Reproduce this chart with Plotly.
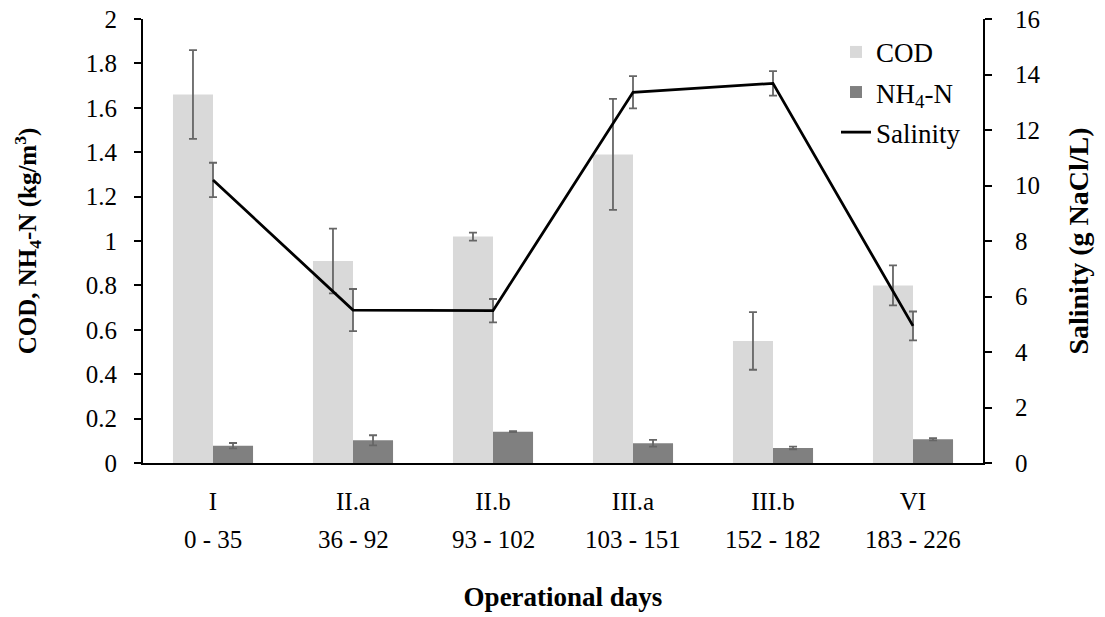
import plotly.graph_objects as go

phases = ["I", "II.a", "II.b", "III.a", "III.b", "VI"]
day_ranges = ["0 - 35", "36 - 92", "93 - 102", "103 - 151", "152 - 182", "183 - 226"]

cod = [1.66, 0.91, 1.02, 1.39, 0.55, 0.80]
cod_err = [0.20, 0.146, 0.018, 0.25, 0.13, 0.09]
nh4 = [0.078, 0.102, 0.141, 0.089, 0.068, 0.107]
nh4_err = [0.012, 0.023, 0.002, 0.015, 0.006, 0.005]
salinity = [10.2, 5.51, 5.49, 13.36, 13.68, 4.94]
salinity_err = [0.62, 0.76, 0.42, 0.58, 0.44, 0.52]

FONT = "Liberation Serif"
ERR_COLOR = "#666666"

fig = go.Figure()
fig.add_trace(go.Bar(
    x=phases, y=cod, name="COD", legendgroup="a",
    marker=dict(color="#d9d9d9", line=dict(width=0)),
    error_y=dict(type="data", array=cod_err, color=ERR_COLOR, thickness=1.8, width=4),
))
fig.add_trace(go.Bar(
    x=phases, y=nh4, name="NH<sub>4</sub>-N", legendgroup="b",
    marker=dict(color="#808080", line=dict(width=0)),
    error_y=dict(type="data", array=nh4_err, color=ERR_COLOR, thickness=1.8, width=4),
))
fig.add_trace(go.Scatter(
    x=phases, y=salinity, name="Salinity", legendgroup="c", yaxis="y2",
    mode="lines", line=dict(color="black", width=2.8),
    error_y=dict(type="data", array=salinity_err, color=ERR_COLOR, thickness=1.8, width=4),
))

# day ranges under the phase labels
for p, d in zip(phases, day_ranges):
    fig.add_annotation(x=p, y=-0.173, xref="x", yref="paper", text=d, showarrow=False,
                       font=dict(family=FONT, size=25, color="black"), yanchor="middle")

fig.update_layout(
    width=1105, height=617,
    margin=dict(l=143, r=122, t=19, b=154),
    paper_bgcolor="white", plot_bgcolor="white",
    font=dict(family=FONT, size=25, color="black"),
    barmode="group", bargap=0.428, bargroupgap=0,
    showlegend=True,
    legend=dict(x=0.825, y=0.98, xanchor="left", yanchor="top",
                font=dict(family=FONT, size=27), tracegroupgap=2,
                bgcolor="rgba(0,0,0,0)", itemwidth=30),
    xaxis=dict(
        automargin=False,
        showline=True, linecolor="black", linewidth=2, ticks="", showgrid=False,
        ticklabelstandoff=15, tickfont=dict(family=FONT, size=25),
        title=dict(text="<b>Operational days</b>", font=dict(family=FONT, size=27), standoff=73),
    ),
    yaxis=dict(
        automargin=False,
        range=[0, 2], dtick=0.2, showline=True, linecolor="black", linewidth=2,
        ticks="outside", ticklen=7, tickwidth=1.5, tickcolor="black", showgrid=False,
        zeroline=False, tickfont=dict(family=FONT, size=25), ticklabelstandoff=12,
        title=dict(text="<b>COD, NH<sub>4</sub>-N (kg/m<sup>3</sup>)</b>",
                   font=dict(family=FONT, size=25), standoff=42),
    ),
    yaxis2=dict(
        automargin=False,
        range=[0, 16], dtick=2, overlaying="y", side="right", showline=True,
        linecolor="black", linewidth=2, ticks="outside", ticklen=7, tickwidth=1.5,
        tickcolor="black", showgrid=False, zeroline=False,
        tickfont=dict(family=FONT, size=25), ticklabelstandoff=18,
        title=dict(text="<b>Salinity (g NaCl/L)</b>", font=dict(family=FONT, size=28), standoff=29),
    ),
)

fig.write_html("out.html")
